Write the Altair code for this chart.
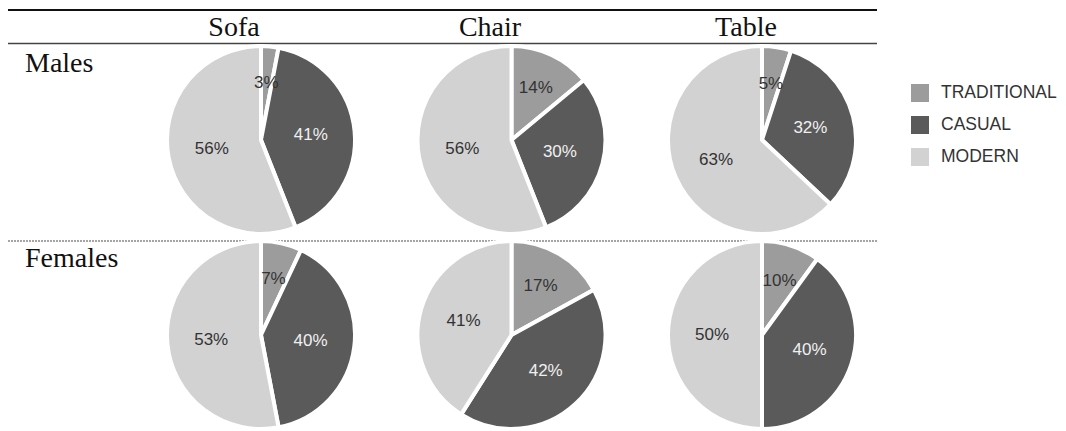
import math
import altair as alt
import pandas as pd

# ---- data ----
GENDERS = ["Males", "Females"]
FURNITURE = ["Sofa", "Chair", "Table"]
STYLES = ["TRADITIONAL", "CASUAL", "MODERN"]
# order: Males Sofa, Chair, Table, Females Sofa, Chair, Table
TRADITIONAL = [3, 14, 5, 7, 17, 10]
CASUAL = [41, 30, 32, 40, 42, 40]
MODERN = [56, 56, 63, 53, 41, 50]

COLORS = ["#9c9c9c", "#5a5a5a", "#d2d2d2"]

rows = []
i = 0
for g in GENDERS:
    for f in FURNITURE:
        for k, (s, vals) in enumerate(zip(STYLES, [TRADITIONAL, CASUAL, MODERN])):
            rows.append({"gender": g, "furniture": f, "style": s, "order": k, "pct": vals[i]})
        i += 1
df = pd.DataFrame(rows)

x_scale = alt.Scale(type="point", domain=FURNITURE, range=[261, 762], padding=0)
y_scale = alt.Scale(type="point", domain=GENDERS, range=[140, 335], padding=0)
theta_scale = alt.Scale(domain=[0, 100], range=[0, 2 * math.pi])

base = (
    alt.Chart(df)
    .transform_window(
        cum="sum(pct)",
        groupby=["gender", "furniture"],
        sort=[alt.SortField("order")],
        frame=[None, 0],
    )
    .transform_calculate(
        start="datum.cum - datum.pct",
        mid="datum.cum - datum.pct / 2",
        lr="datum.style == 'TRADITIONAL' ? 57 : 50",
        label="datum.pct + '%'",
    )
)

arcs = base.mark_arc(outerRadius=94, stroke="white", strokeWidth=4).encode(
    x=alt.X("furniture:N", scale=x_scale, axis=None),
    y=alt.Y("gender:N", scale=y_scale, axis=None),
    theta=alt.Theta("start:Q", stack=None, scale=theta_scale),
    theta2=alt.Theta2("cum:Q"),
    color=alt.Color(
        "style:N",
        scale=alt.Scale(domain=STYLES, range=COLORS),
        legend=alt.Legend(
            title=None,
            orient="none",
            legendX=911,
            legendY=84,
            symbolType="square",
            symbolSize=324,
            symbolStrokeWidth=0,
            symbolOpacity=1,
            labelFont="Liberation Sans",
            labelFontSize=17.5,
            labelColor="#333333",
            labelOffset=12,
            rowPadding=14,
            padding=0,
        ),
    ),
)

labels = base.mark_text(font="Liberation Sans", fontSize=17, fontWeight=500).encode(
    x=alt.X("furniture:N", scale=x_scale, axis=None),
    y=alt.Y("gender:N", scale=y_scale, axis=None),
    theta=alt.Theta("mid:Q", stack=None, scale=theta_scale),
    radius=alt.Radius("lr:Q", scale=None),
    text="label:N",
    color=alt.condition("datum.style == 'CASUAL'", alt.value("#f0f0f0"), alt.value("#333333")),
)

head_df = pd.DataFrame({"furniture": FURNITURE})
headers = alt.Chart(head_df).mark_text(
    font="Liberation Serif", fontSize=28, color="#111111", baseline="alphabetic"
).encode(
    x=alt.X("furniture:N", scale=alt.Scale(type="point", domain=FURNITURE, range=[234, 746], padding=0), axis=None),
    y=alt.value(36),
    text="furniture:N",
)

row_df = pd.DataFrame({"gender": GENDERS})
row_labels = alt.Chart(row_df).mark_text(
    font="Liberation Serif", fontSize=28, color="#111111", align="left", baseline="alphabetic", dy=-68
).encode(
    x=alt.value(25),
    y=alt.Y("gender:N", scale=y_scale, axis=None),
    text="gender:N",
)

dummy = alt.Chart(pd.DataFrame({"k": [0]}))
top_rule = dummy.mark_rule(color="#111111", strokeWidth=2).encode(
    x=alt.value(8), x2=alt.value(877), y=alt.value(10)
)
head_rule = dummy.mark_rule(color="#444444", strokeWidth=1.5).encode(
    x=alt.value(8), x2=alt.value(877), y=alt.value(43.5)
)
mid_rule = dummy.mark_rule(color="#888888", strokeWidth=1.5, strokeDash=[2, 1]).encode(
    x=alt.value(8), x2=alt.value(877), y=alt.value(241)
)

chart = (
    alt.layer(top_rule, head_rule, mid_rule, arcs, labels, headers, row_labels)
    .resolve_scale(x="independent")
    .properties(
        width=1066,
        height=431,
        padding=0,
        autosize=alt.AutoSizeParams(type="none"),
        background="white",
    )
    .configure_view(stroke=None)
)

chart.save("out.html", embed_options={"renderer": "svg", "actions": False})
